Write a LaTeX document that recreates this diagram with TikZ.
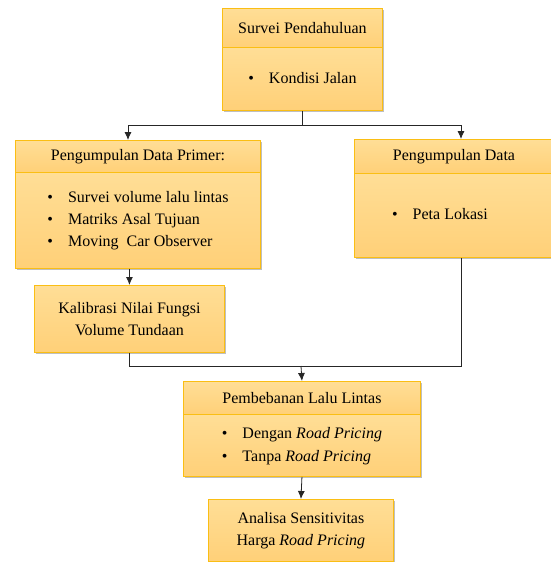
\documentclass[tikz,border=0pt]{standalone}
\usepackage{fontspec}
\setmainfont{Liberation Serif}
\usepackage{tikz}
\usetikzlibrary{arrows.meta}
\usetikzlibrary{shadows}

\definecolor{boxline}{RGB}{250,190,20}
\definecolor{boxtop}{RGB}{255,222,150}
\definecolor{boxbot}{RGB}{255,208,120}

\tikzset{
  box/.style={draw=boxline, line width=0.9pt, top color=boxtop, bottom color=boxbot,
    anchor=north west, inner sep=0pt, align=center,
    font=\fontsize{16}{22}\selectfont,
    drop shadow={shadow xshift=2pt, shadow yshift=-2pt, fill=black, opacity=0.25}},
  link/.style={line width=0.8pt, black!85},
  arr/.style={link, -{Latex[length=8pt,width=7pt]}}
}

\newcommand{\pts}[1]{\begin{tabular}{@{}l@{\hspace{15pt}}l@{}}#1\end{tabular}}

\begin{document}
\begin{tikzpicture}[x=1pt, y=-1pt]
\useasboundingbox (0,0) rectangle (551,562);
\coordinate (a) at (222,8);
\coordinate (a2) at (222,47);
\coordinate (b) at (15,140);
\coordinate (b2) at (15,172);
\coordinate (c) at (354,139);
\coordinate (c2) at (354,173);
\coordinate (d) at (34,285);
\coordinate (e) at (183,381);
\coordinate (e2) at (183,414);
\coordinate (f) at (208,499);
\coordinate (jl) at (128,125);
\coordinate (jr) at (461,125);
\coordinate (mg) at (301,366);
% draws boxes
\node[box, minimum width=160, minimum height=39] (survei) at (a) {Survei Pendahuluan};
\node[box, minimum width=160, minimum height=63] (kondisi) at (a2) {\pts{\textbullet & Kondisi Jalan}};
\node[box, minimum width=245, minimum height=32] (primer) at (b) {Pengumpulan Data Primer:};
\node[box, minimum width=245, minimum height=96] (primerbody) at (b2)
  {\pts{\textbullet & Survei volume lalu lintas\\ \textbullet & Matriks Asal Tujuan\\ \textbullet & Moving\ \ Car Observer}};
\node[box, minimum width=199, minimum height=34] (data) at (c) {Pengumpulan Data};
\node[box, minimum width=199, minimum height=84] (databody) at (c2) {\pts{\textbullet & Peta Lokasi}\hspace{28pt}};
\node[box, minimum width=190, minimum height=67] (kalibrasi) at (d) {Kalibrasi Nilai Fungsi\\ Volume Tundaan};
\node[box, minimum width=237, minimum height=33] (pembebanan) at (e) {Pembebanan Lalu Lintas};
\node[box, minimum width=237, minimum height=62] (pembebananbody) at (e2)
  {\pts{\textbullet & Dengan \textit{Road Pricing}\\[1pt] \textbullet & Tanpa \textit{Road Pricing}}};
\node[box, minimum width=185, minimum height=62] (analisa) at (f) {Analisa Sensitivitas\\ Harga \textit{Road Pricing}};
% draws connectors
\draw[link] (kondisi.south) -- (kondisi.south |- jl);
\draw[link] (jl) -- (jr);
\draw[arr] (jl) -- (jl |- primer.north);
\draw[arr] (jr) -- (jr |- data.north);
\draw[arr] (kalibrasi.north |- primerbody.south) -- (kalibrasi.north);
\draw[link] (kalibrasi.south) |- (mg);
\draw[link] (jr |- databody.south) |- (mg);
\draw[arr] (mg) -- (pembebanan.north);
\draw[arr] (pembebananbody.south) -- (analisa.north);
\end{tikzpicture}
\end{document}
